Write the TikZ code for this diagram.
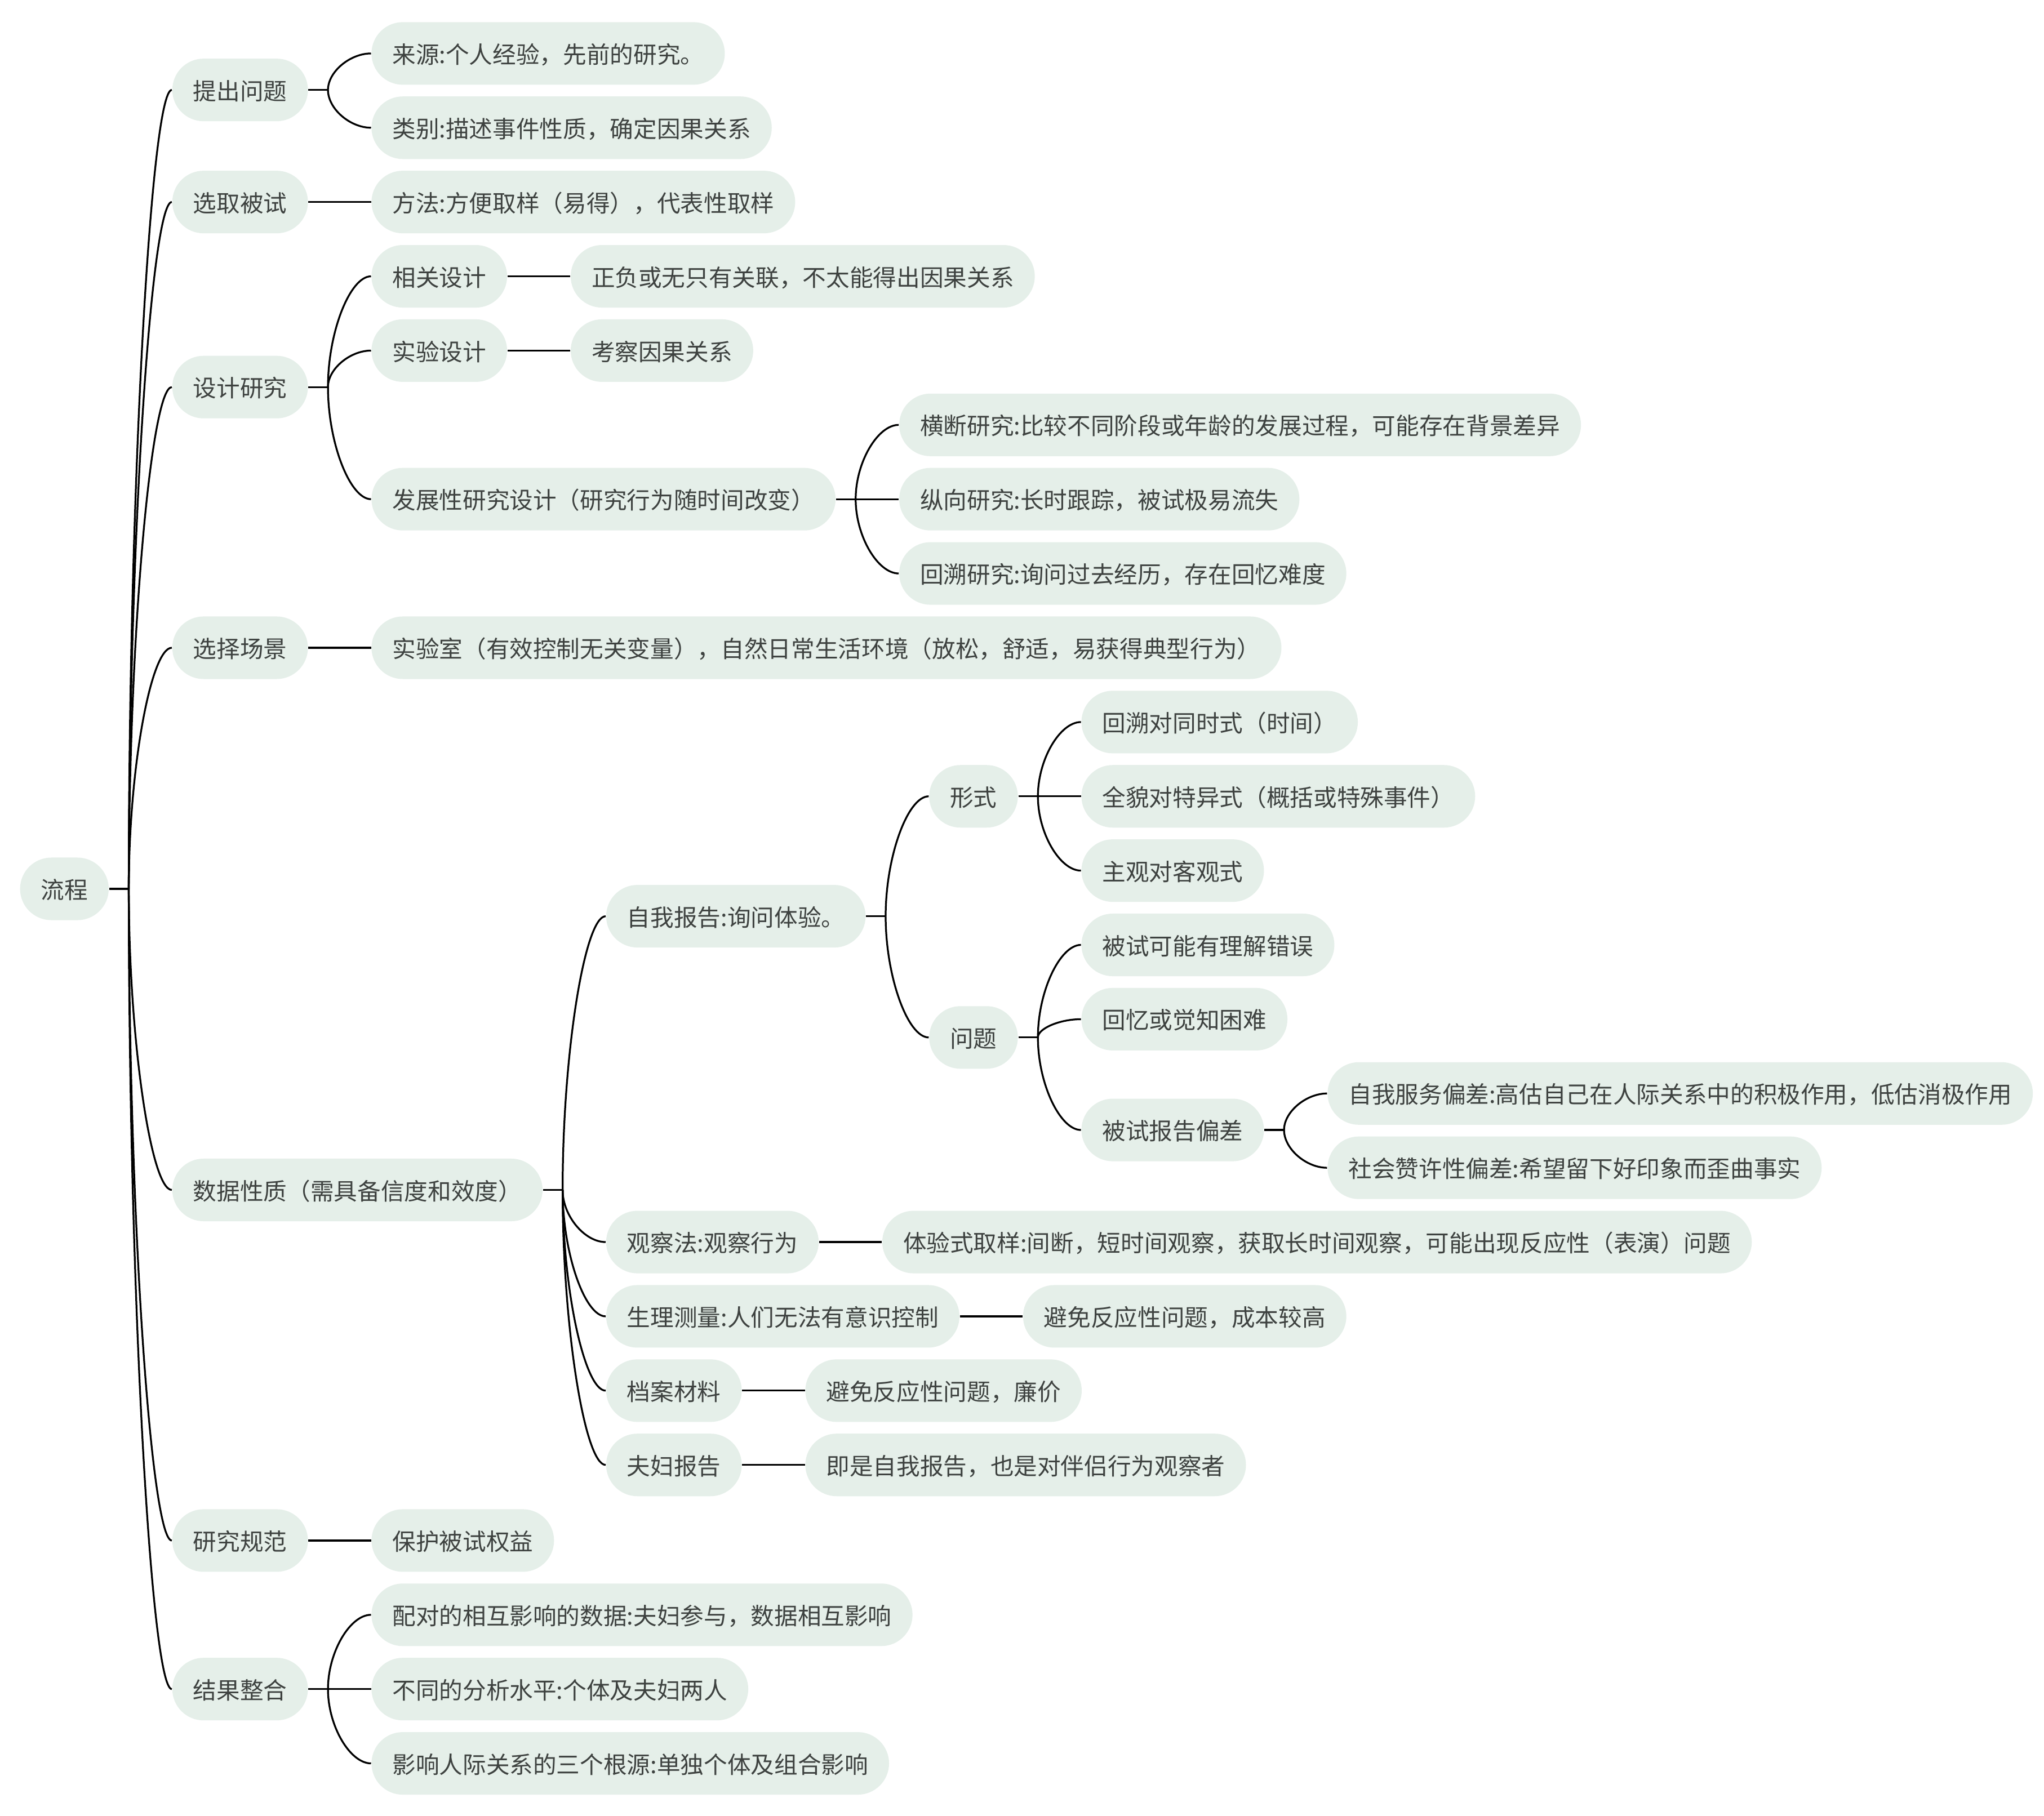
\documentclass[tikz,border=0pt]{standalone}
\usepackage{fontspec}
\setmainfont{Noto Sans CJK SC}
\usetikzlibrary{positioning, calc}

\definecolor{pill}{HTML}{E5EFE9}
\definecolor{ink}{HTML}{3E4240}

\begin{document}
\begin{tikzpicture}[
    x=0.5pt, y=-0.5pt,
    topic/.style={fill=pill, rounded corners=12pt, anchor=west,
                  minimum height=24pt, inner xsep=8pt, inner ysep=0pt,
                  text height=0.88em, text depth=0.12em,
                  font=\fontsize{9}{11}\selectfont, text=ink},
    link/.style={line width=0.7pt, black}
  ]
  \fill[white] (0,0) rectangle (1568,1393);

  % root and first level
  \node[topic] (flow) at (15,682) {流程};
  \node[topic] (ask)    at ([xshift=24pt]flow.east |- 0,69)   {提出问题};
  \node[topic] (pick)   at ([xshift=24pt]flow.east |- 0,155)  {选取被试};
  \node[topic] (design) at ([xshift=24pt]flow.east |- 0,297)  {设计研究};
  \node[topic] (scene)  at ([xshift=24pt]flow.east |- 0,497)  {选择场景};
  \node[topic] (data)   at ([xshift=24pt]flow.east |- 0,913)  {数据性质（需具备信度和效度）};
  \node[topic] (ethic)  at ([xshift=24pt]flow.east |- 0,1182) {研究规范};
  \node[topic] (merge)  at ([xshift=24pt]flow.east |- 0,1296) {结果整合};

  % 提出问题 / 选取被试
  \node[topic] (src)  at ([xshift=24pt]ask.east |- 0,41) {来源:个人经验，先前的研究。};
  \node[topic] (kind) at ([xshift=24pt]ask.east |- 0,98) {类别:描述事件性质，确定因果关系};
  \node[topic] (way)  at ([xshift=24pt]pick.east |- 0,155) {方法:方便取样（易得），代表性取样};

  % 设计研究
  \node[topic] (corr) at ([xshift=24pt]design.east |- 0,212) {相关设计};
  \node[topic] (expt) at ([xshift=24pt]design.east |- 0,269) {实验设计};
  \node[topic] (dev)  at ([xshift=24pt]design.east |- 0,383) {发展性研究设计（研究行为随时间改变）};
  \node[topic] (corrnote) at ([xshift=24pt]corr.east |- 0,212) {正负或无只有关联，不太能得出因果关系};
  \node[topic] (exptnote) at ([xshift=24pt]expt.east |- 0,269) {考察因果关系};
  \node[topic] (cross) at ([xshift=24pt]dev.east |- 0,326) {横断研究:比较不同阶段或年龄的发展过程，可能存在背景差异};
  \node[topic] (longi) at ([xshift=24pt]dev.east |- 0,383) {纵向研究:长时跟踪，被试极易流失};
  \node[topic] (retro) at ([xshift=24pt]dev.east |- 0,440) {回溯研究:询问过去经历，存在回忆难度};

  % 选择场景
  \node[topic] (place) at ([xshift=24pt]scene.east |- 0,497) {实验室（有效控制无关变量），自然日常生活环境（放松，舒适，易获得典型行为）};

  % 数据性质
  \node[topic] (self)   at ([xshift=24pt]data.east |- 0,703)  {自我报告:询问体验。};
  \node[topic] (obs)    at ([xshift=24pt]data.east |- 0,953)  {观察法:观察行为};
  \node[topic] (phys)   at ([xshift=24pt]data.east |- 0,1010) {生理测量:人们无法有意识控制};
  \node[topic] (arch)   at ([xshift=24pt]data.east |- 0,1067) {档案材料};
  \node[topic] (couple) at ([xshift=24pt]data.east |- 0,1124) {夫妇报告};

  \node[topic] (form)  at ([xshift=24pt]self.east |- 0,611) {形式};
  \node[topic] (issue) at ([xshift=24pt]self.east |- 0,796) {问题};
  \node[topic] (fa) at ([xshift=24pt]form.east |- 0,554) {回溯对同时式（时间）};
  \node[topic] (fb) at ([xshift=24pt]form.east |- 0,611) {全貌对特异式（概括或特殊事件）};
  \node[topic] (fc) at ([xshift=24pt]form.east |- 0,668) {主观对客观式};
  \node[topic] (ia)   at ([xshift=24pt]issue.east |- 0,725) {被试可能有理解错误};
  \node[topic] (ib)   at ([xshift=24pt]issue.east |- 0,782) {回忆或觉知困难};
  \node[topic] (bias) at ([xshift=24pt]issue.east |- 0,867) {被试报告偏差};
  \node[topic] (serve)  at ([xshift=24pt]bias.east |- 0,839) {自我服务偏差:高估自己在人际关系中的积极作用，低估消极作用};
  \node[topic] (social) at ([xshift=24pt]bias.east |- 0,896) {社会赞许性偏差:希望留下好印象而歪曲事实};

  \node[topic] (obsnote)    at ([xshift=24pt]obs.east |- 0,953)     {体验式取样:间断，短时间观察，获取长时间观察，可能出现反应性（表演）问题};
  \node[topic] (physnote)   at ([xshift=24pt]phys.east |- 0,1010)   {避免反应性问题，成本较高};
  \node[topic] (archnote)   at ([xshift=24pt]arch.east |- 0,1067)   {避免反应性问题，廉价};
  \node[topic] (couplenote) at ([xshift=24pt]couple.east |- 0,1124) {即是自我报告，也是对伴侣行为观察者};

  % 研究规范 / 结果整合
  \node[topic] (protect) at ([xshift=24pt]ethic.east |- 0,1182) {保护被试权益};
  \node[topic] (ma) at ([xshift=24pt]merge.east |- 0,1239) {配对的相互影响的数据:夫妇参与，数据相互影响};
  \node[topic] (mb) at ([xshift=24pt]merge.east |- 0,1296) {不同的分析水平:个体及夫妇两人};
  \node[topic] (mc) at ([xshift=24pt]merge.east |- 0,1353) {影响人际关系的三个根源:单独个体及组合影响};

  % forks
  \foreach \p/\kids in {flow/{ask,pick,design,scene,data,ethic,merge},
      ask/{src,kind}, design/{corr,expt,dev}, dev/{cross,longi,retro},
      data/{self,obs,phys,arch,couple}, self/{form,issue},
      form/{fa,fb,fc}, issue/{ia,ib,bias}, bias/{serve,social},
      merge/{ma,mb,mc}} {
    \coordinate (j\p) at ([xshift=7.5pt]\p.east);
    \draw[link] (\p.east) -- (j\p);
    \foreach \c in \kids
      \draw[link] (j\p) .. controls ($(j\p)!.5!(j\p |- \c.west)$)
                        and ([xshift=-8pt]\c.west) .. (\c.west);
  }
  % single children
  \foreach \p/\c in {pick/way, corr/corrnote, expt/exptnote, scene/place,
      obs/obsnote, phys/physnote, arch/archnote, couple/couplenote,
      ethic/protect}
    \draw[link] (\p.east) -- (\c.west);
\end{tikzpicture}
\end{document}
